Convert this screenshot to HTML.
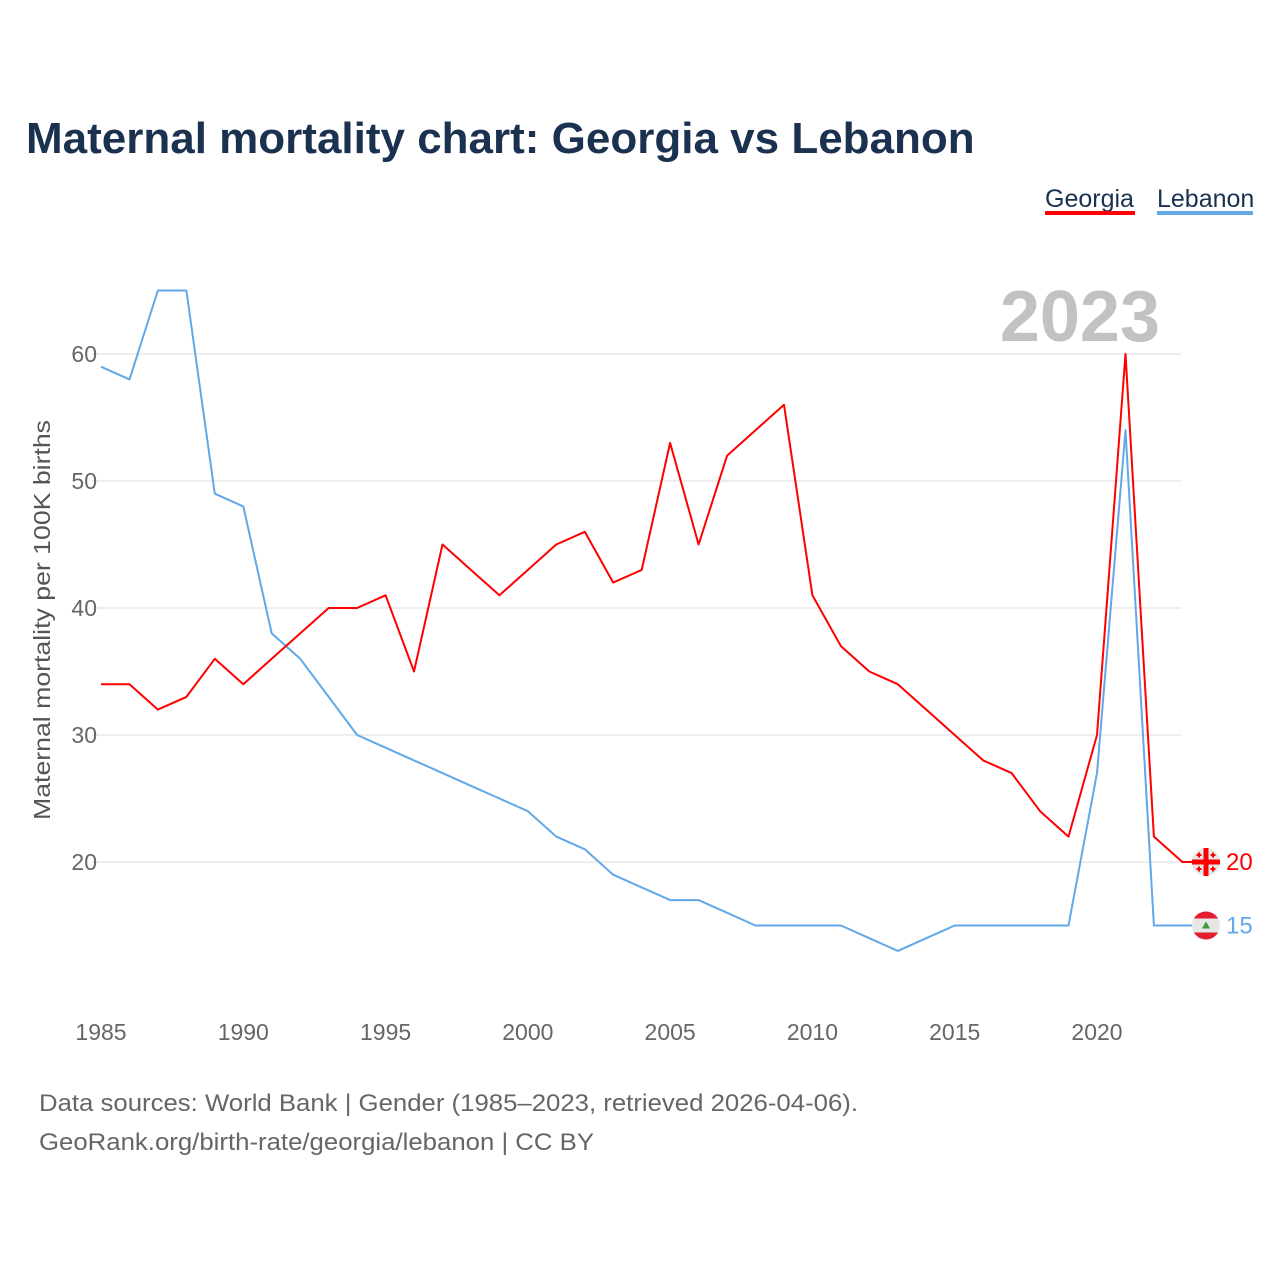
<!DOCTYPE html>
<html><head><meta charset="utf-8"><style>
html,body{margin:0;padding:0;background:#fff;width:1280px;height:1280px;overflow:hidden;font-family:"Liberation Sans",sans-serif}
</style></head><body>
<svg width="1280" height="1280" viewBox="0 0 1280 1280" xmlns="http://www.w3.org/2000/svg">
<text x="26" y="153" font-size="44" font-weight="bold" fill="#1b3150">Maternal mortality chart: Georgia vs Lebanon</text>
<g><text x="1045" y="207" font-size="25" fill="#1b3150">Georgia</text><rect x="1045" y="211" width="90" height="4" fill="#ff0000"/></g>
<g><text x="1157" y="207" font-size="25" fill="#1b3150">Lebanon</text><rect x="1157" y="211" width="96" height="4" fill="#62a8e8"/></g>
<text x="1160" y="341" font-size="72" font-weight="bold" fill="#c2c2c2" text-anchor="end">2023</text>
<g id="grid"></g><g id="yticks"></g><g id="xticks"></g><g id="lines"></g>
<text transform="translate(50,620) rotate(-90)" font-size="23" fill="#555" text-anchor="middle" textLength="400" lengthAdjust="spacingAndGlyphs">Maternal mortality per 100K births</text>
<text x="39" y="1111" font-size="24" fill="#666" textLength="819" lengthAdjust="spacingAndGlyphs">Data sources: World Bank | Gender (1985–2023, retrieved 2026-04-06).</text>
<text x="39" y="1150" font-size="24" fill="#666" textLength="555" lengthAdjust="spacingAndGlyphs">GeoRank.org/birth-rate/georgia/lebanon | CC BY</text>
</svg>
<script>
const years=[];for(let y=1985;y<=2023;y++)years.push(y);
const georgia=[34,34,32,33,36,34,36,38,40,40,41,35,45,43,41,43,45,46,42,43,53,45,52,54,56,41,37,35,34,32,30,28,27,24,22,30,60,22,20];
const lebanon=[59,58,65,65,49,48,38,36,33,30,29,28,27,26,25,24,22,21,19,18,17,17,16,15,15,15,15,14,13,14,15,15,15,15,15,27,54,15,15];
const yTicks=[20,30,40,50,60];
const xTicks=[1985,1990,1995,2000,2005,2010,2015,2020];
const X=y=>101+(y-1985)*(996/35);
const Y=v=>862-(v-20)*12.7;
const NS="http://www.w3.org/2000/svg";
function mk(t,a,p){const e=document.createElementNS(NS,t);for(const k in a)e.setAttribute(k,a[k]);p.appendChild(e);return e;}
const grid=document.getElementById('grid'),yt=document.getElementById('yticks'),xt=document.getElementById('xticks'),ln=document.getElementById('lines');
yTicks.forEach(v=>{
 const l=mk('line',{x1:92,x2:1181,y1:Y(v),y2:Y(v),stroke:'#e8e8e8','stroke-width':1.5},grid);
 
 
 const t=mk('text',{x:97,y:Y(v)+8,'font-size':23,fill:'#666','text-anchor':'end'},yt);t.textContent=v;
 
 
});
xTicks.forEach(v=>{
 const t=mk('text',{x:X(v),y:1040,'font-size':23,fill:'#666','text-anchor':'middle'},xt);t.textContent=v;
 
 
});
function series(vals,color,name){
 const d=vals.map((v,i)=>(i?'L':'M')+X(years[i]).toFixed(1)+','+Y(v).toFixed(1)).join('');
 const p=mk('path',{d:d+'L1192,'+Y(vals[vals.length-1]),fill:'none',stroke:color,'stroke-width':2,'stroke-linejoin':'round'},ln);
 
 
 const last=vals[vals.length-1],cy=Y(last);
 const g=mk('g',{},ln);
 
 
 mk('circle',{cx:1206,cy:cy,r:14,fill:'#e6e6e6'},g);
 if(name==='georgia'){
  mk('rect',{x:1192,y:cy-2.5,width:28,height:5,fill:'#f00'},g);
  mk('rect',{x:1203.5,y:cy-14,width:5,height:28,fill:'#f00'},g);
  [[-7,-7],[7,-7],[-7,7],[7,7]].forEach(o=>{mk('rect',{x:1206+o[0]-2.5,y:cy+o[1]-1,width:5,height:2,fill:'#f00'},g);mk('rect',{x:1206+o[0]-1,y:cy+o[1]-2.5,width:2,height:5,fill:'#f00'},g);});
 }else{
  mk('path',{d:`M1193.9,${cy-7}A14,14 0 0 1 1218.1,${cy-7}Z`,fill:'#e31d2f'},g);
  mk('path',{d:`M1193.9,${cy+7}A14,14 0 0 0 1218.1,${cy+7}Z`,fill:'#e31d2f'},g);
  mk('path',{d:`M1206,${cy-4}L1210,${cy+3}L1202,${cy+3}Z`,fill:'#3a9a3a'},g);
 }
 const t=mk('text',{x:1226,y:cy+8,'font-size':24,fill:color},ln);t.textContent=last;
 
 
}
series(lebanon,'#62a8e8','lebanon');
series(georgia,'#ff0000','georgia');
</script>
</body></html>
